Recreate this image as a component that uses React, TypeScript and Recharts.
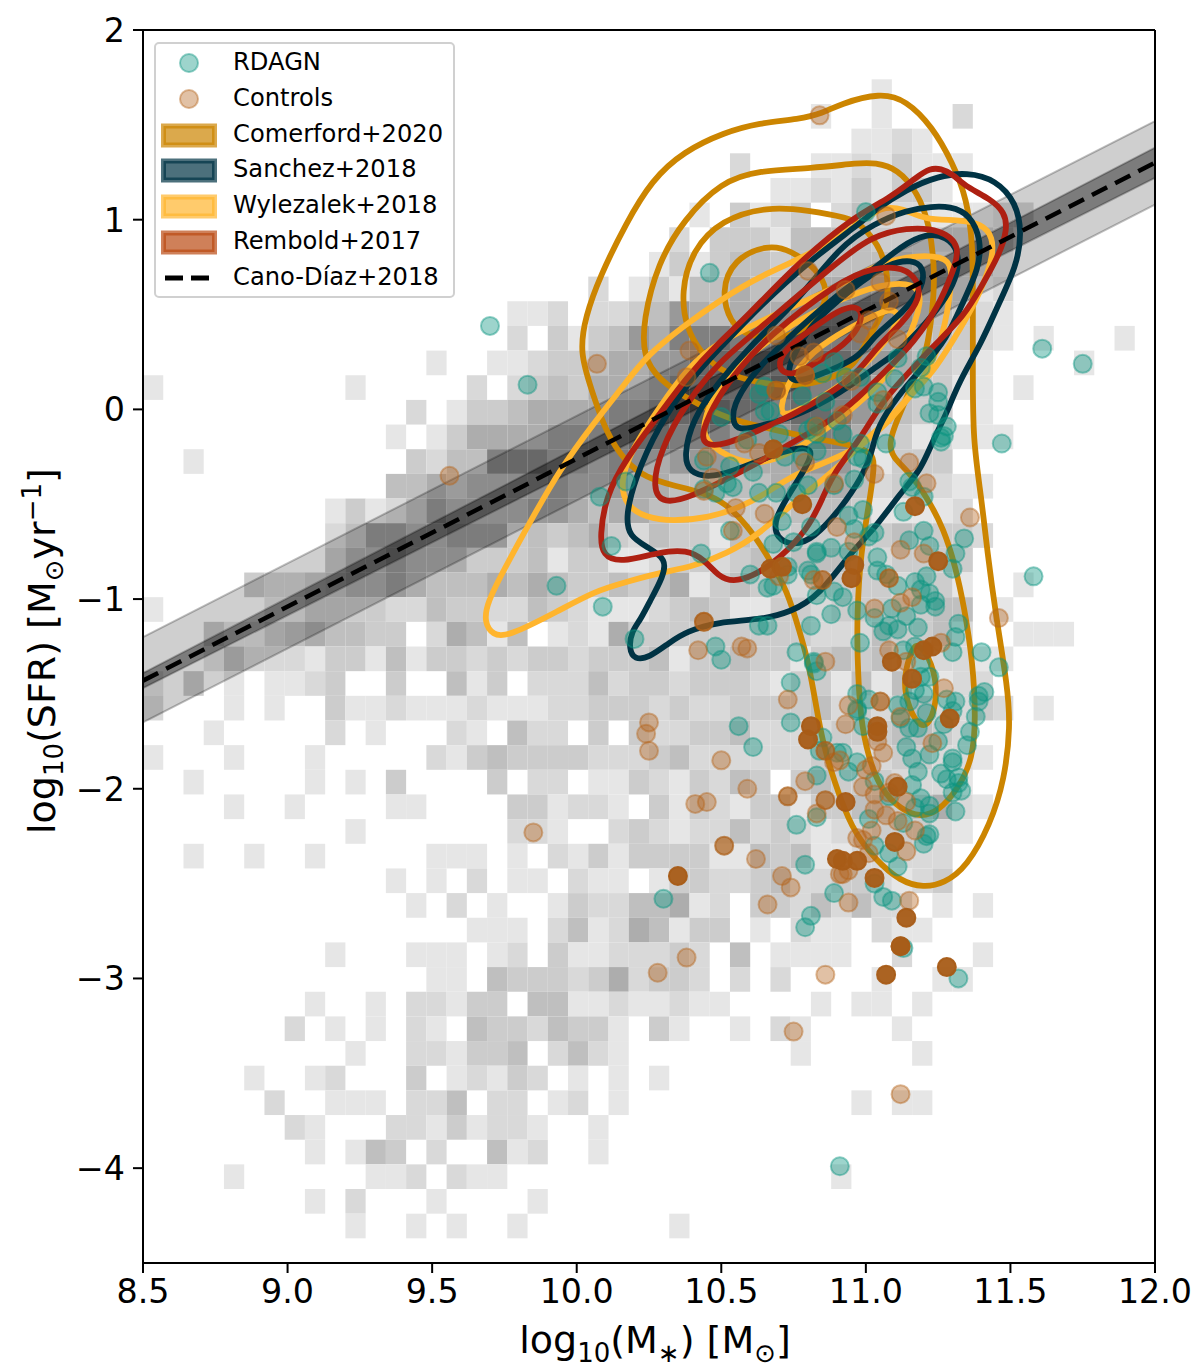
import { Area, ComposedChart, Line, ReferenceArea, ReferenceLine, Scatter, XAxis, YAxis } from "recharts";

const xTicks = [8.5, 9, 9.5, 10, 10.5, 11, 11.5, 12];
const yTicks = [-4, -3, -2, -1, 0, 1, 2];

// 2d histogram: [row from top, first column, shade level per column]
const binWidth = 0.07;
const binHeight = 0.13;
const histRows: [number, number, string][] = [
  [2, 36, "1"],
  [3, 33, "10010002"],
  [4, 35, "1121"],
  [5, 29, "200011213111"],
  [6, 31, "112131331"],
  [7, 27, "10312302422211122"],
  [8, 26, "20333144443333332"],
  [9, 25, "131344344444432331"],
  [10, 22, "201314454455554443312"],
  [11, 18, "1120223465" + "4555555555" + "44321"],
  [12, 18, "2031346577" + "7666666655" + "44321" + "010001"],
  [13, 14, "1001123345" + "5667777777" + "7665432100" + "001"],
  [14, 0, "1000000000" + "1000002023" + "4355567777" + "7887775433" + "1101"],
  [15, 13, "2013345" + "5556677887" + "7788765433" + "01"],
  [16, 12, "10135555" + "6666776776" + "6677753312" + "111"],
  [17, 2, "1" + "0000000000" + "3244777" + "6656556665" + "5566641333"],
  [18, 12, "44545555" + "6556554444" + "4555542332" + "11"],
  [19, 9, "13124655556" + "6545544333" + "3344431111" + "2"],
  [20, 9, "24665566634" + "3453243314" + "3333333433" + "32"],
  [21, 9, "35565553334" + "1331123323" + "4344432333" + "3"],
  [22, 5, "32234" + "5565444545" + "4334345134" + "3323333233" + "1001"],
  [23, 0, "1000001133" + "3322433224" + "3211123431" + "1332333334" + "401"],
  [24, 3, "3113454" + "4330254140" + "1215333333" + "3332224334" + "200111"],
  [25, 3, "1422213" + "3141332323" + "3233341334" + "3313434222" + "211"],
  [26, 0, "1030101123" + "0030041302" + "2242332333" + "2133141411" + "22"],
  [27, 0, "2000101003" + "1121112111" + "2233323223" + "3334232342" + "23201"],
  [28, 3, "1000002" + "0100021042" + "2030322334" + "2222333443" + "2"],
  [29, 0, "1000100010" + "0000213433" + "3322234222" + "2223222332" + "21"],
  [30, 2, "10000010" + "1030000302" + "2011321324" + "3034333222" + "1"],
  [31, 4, "100100" + "0011000033" + "1221031321" + "3313344345" + "21"],
  [32, 10, "1000000022" + "1002321224" + "2321223332" + "1"],
  [33, 2, "10010010" + "0000111010" + "2131333311" + "4341122222"],
  [34, 12, "10102011" + "0211013322" + "3422332123"],
  [35, 13, "1020100" + "1322445120" + "332424220101"],
  [36, 16, "1110" + "2412541330" + "102110211"],
  [37, 9, "1" + "0001110120" + "3112223204" + "011110020001"],
  [38, 14, "110433" + "3235233202" + "02000010011"],
  [39, 8, "100102213304" + "4112112110" + "000101101"],
  [40, 7, "2010102104332" + "4331031001" + "02100001"],
  [41, 10, "1002213340" + "2421000000" + "001000001"],
  [42, 5, "10012" + "0003012132" + "010101"],
  [43, 6, "2001" + "1102240220" + "1201" + "00000000000" + "1011"],
  [44, 7, "2100022131221" + "001"],
  [45, 8, "101430200412001"],
  [46, 4, "1000000" + "1120211" + "0000000000000000" + "1"],
  [47, 8, "102000100001"],
  [48, 10, "100101001" + "0000000" + "1"],
];
const shades = ["none", "#e6e6e6", "#d9d9d9", "#cccccc", "#bfbfbf", "#adadad", "#999999", "#808080", "#6b6b6b"];

// Cano-Diaz+2018 relation
const msLine = [[8.5, -1.43], [12, 1.3]];
const msInner = [[8.5, -1.47, -1.39], [12, 1.22, 1.38]];
const msOuter = [[8.5, -1.65, -1.2], [12, 1.08, 1.52]];

const comerford = [
  [[10.91, 1.61], [11.05, 1.67], [11.14, 1.63], [11.23, 1.49], [11.3, 1.3], [11.35, 1.11], [11.37, 0.86], [11.37, 0.62], [11.37, 0.19], [11.37, -0.16], [11.4, -0.47], [11.42, -0.75], [11.45, -1.09], [11.49, -1.46], [11.5, -1.67], [11.48, -1.95], [11.43, -2.19], [11.35, -2.41], [11.27, -2.5], [11.2, -2.52], [11.12, -2.49], [11.03, -2.37], [10.95, -2.21], [10.89, -1.96], [10.85, -1.75], [10.83, -1.58], [10.8, -1.32], [10.77, -1.17], [10.73, -0.96], [10.66, -0.77], [10.59, -0.61], [10.51, -0.49], [10.44, -0.44], [10.33, -0.4], [10.24, -0.36], [10.17, -0.28], [10.1, -0.12], [10.05, 0.11], [10.01, 0.3], [10.03, 0.49], [10.08, 0.7], [10.17, 0.98], [10.26, 1.21], [10.37, 1.36], [10.51, 1.46], [10.63, 1.51], [10.77, 1.53], [10.85, 1.56]],
  [[10.23, 0.47], [10.28, 0.77], [10.37, 1.0], [10.5, 1.2], [10.63, 1.26], [10.81, 1.27], [10.98, 1.3], [11.03, 1.3], [11.11, 1.27], [11.18, 1.14], [11.22, 0.98], [11.24, 0.72], [11.23, 0.51], [11.21, 0.3], [11.18, 0.21], [11.13, 0.02], [11.11, -0.05], [11.08, -0.17], [11.09, -0.25], [11.15, -0.33], [11.21, -0.46], [11.27, -0.63], [11.31, -0.83], [11.34, -1.04], [11.37, -1.33], [11.38, -1.63], [11.37, -1.84], [11.32, -2.0], [11.25, -2.12], [11.19, -2.15], [11.12, -2.11], [11.05, -2.0], [11.01, -1.84], [10.98, -1.63], [10.97, -1.28], [10.97, -1.09], [10.98, -0.77], [11.02, -0.42], [11.03, -0.28], [11.02, -0.23], [10.96, -0.19], [10.81, -0.15], [10.69, -0.11], [10.52, -0.05], [10.4, 0.04], [10.28, 0.16], [10.23, 0.28]],
  [[10.36, 0.62], [10.4, 0.84], [10.5, 1.0], [10.66, 1.07], [10.8, 1.05], [10.94, 1.01], [10.98, 0.98], [11.06, 0.84], [11.08, 0.65], [11.07, 0.54], [11.04, 0.46], [10.97, 0.26], [10.94, 0.21], [10.84, 0.14], [10.73, 0.12], [10.59, 0.15], [10.49, 0.21], [10.43, 0.3], [10.38, 0.42]],
  [[10.5, 0.62], [10.54, 0.79], [10.66, 0.87], [10.74, 0.84], [10.83, 0.74], [10.87, 0.63], [10.85, 0.51], [10.75, 0.37], [10.59, 0.38], [10.53, 0.46]],
  [[11.18, -1.23], [11.23, -1.33], [11.25, -1.51], [11.22, -1.67], [11.18, -1.67], [11.14, -1.54], [11.13, -1.41], [11.16, -1.26]],
];
const wylezalek = [
  [[9.68, -1.12], [9.71, -1.19], [9.76, -1.2], [9.94, -1.06], [10.06, -0.96], [10.17, -0.91], [10.29, -0.86], [10.4, -0.83], [10.52, -0.76], [10.63, -0.66], [10.75, -0.49], [10.87, -0.35], [10.98, -0.19], [11.08, -0.07], [11.15, 0.07], [11.23, 0.19], [11.3, 0.36], [11.38, 0.56], [11.44, 0.79], [11.44, 0.91], [11.4, 0.98], [11.32, 1.0], [11.2, 1.0], [11.13, 1.06], [11.05, 1.07], [10.98, 0.98], [10.8, 0.81], [10.63, 0.7], [10.5, 0.58], [10.37, 0.44], [10.24, 0.28], [10.17, 0.14], [10.06, -0.07], [9.94, -0.32], [9.84, -0.59], [9.75, -0.84], [9.69, -1.02]],
  [[10.15, -0.38], [10.17, -0.51], [10.24, -0.57], [10.33, -0.59], [10.46, -0.57], [10.56, -0.52], [10.66, -0.44], [10.76, -0.33], [10.96, -0.23], [11.08, -0.05], [11.19, 0.13], [11.26, 0.34], [11.29, 0.58], [11.3, 0.75], [11.27, 0.81], [11.14, 0.81], [11.02, 0.75], [10.91, 0.65], [10.49, 0.37], [10.38, 0.21], [10.29, 0.02], [10.19, -0.21]],
  [[10.43, -0.08], [10.45, -0.19], [10.6, -0.31], [10.74, -0.24], [10.93, -0.03], [11.07, 0.16], [11.14, 0.34], [11.2, 0.58], [11.17, 0.67], [11.05, 0.66], [10.91, 0.58], [10.74, 0.45], [10.59, 0.28], [10.49, 0.12]],
  [[10.7, 0], [10.74, 0.18], [10.84, 0.34], [10.98, 0.46], [11.1, 0.55], [11.12, 0.47], [11.05, 0.32], [10.95, 0.16], [10.81, 0.03], [10.72, -0.04]],
];
const sanchez = [
  [[11.35, 1.25], [11.45, 1.21], [11.52, 1.09], [11.54, 0.93], [11.52, 0.75], [11.46, 0.56], [11.4, 0.35], [11.32, 0.14], [11.28, -0.02], [11.23, -0.17], [11.19, -0.32], [11.12, -0.44], [11.03, -0.63], [10.95, -0.75], [10.84, -0.98], [10.74, -1.07], [10.63, -1.11], [10.49, -1.12], [10.38, -1.17], [10.32, -1.23], [10.25, -1.31], [10.2, -1.32], [10.18, -1.26], [10.19, -1.17], [10.22, -1.11], [10.25, -1.02], [10.3, -0.88], [10.31, -0.79], [10.25, -0.73], [10.18, -0.67], [10.17, -0.56], [10.2, -0.37], [10.28, -0.09], [10.4, 0.17], [10.5, 0.33], [10.63, 0.54], [10.81, 0.79], [10.98, 0.98], [11.03, 1.05], [11.14, 1.16], [11.25, 1.23]],
  [[11.29, 1.07], [11.36, 1.03], [11.4, 0.89], [11.39, 0.74], [11.34, 0.58], [11.28, 0.37], [11.19, 0.21], [11.11, 0.07], [11.04, -0.09], [11.02, -0.23], [10.99, -0.35], [10.91, -0.53], [10.82, -0.68], [10.75, -0.72], [10.69, -0.68], [10.68, -0.58], [10.75, -0.41], [10.82, -0.24], [10.8, -0.19], [10.69, -0.23], [10.54, -0.33], [10.45, -0.36], [10.39, -0.33], [10.37, -0.25], [10.4, -0.05], [10.49, 0.14], [10.59, 0.32], [10.77, 0.58], [10.91, 0.86], [11.03, 0.98], [11.14, 1.05], [11.23, 1.07]],
  [[10.54, -0.07], [10.56, -0.11], [10.63, -0.09], [10.75, -0.04], [10.87, 0.05], [10.96, 0.14], [11.05, 0.24], [11.11, 0.3], [11.2, 0.44], [11.28, 0.59], [11.32, 0.72], [11.32, 0.84], [11.28, 0.91], [11.21, 0.93], [11.12, 0.86], [11.03, 0.74], [10.91, 0.62], [10.69, 0.32], [10.6, 0.17], [10.54, 0.02]],
  [[10.73, 0.19], [10.75, 0.14], [10.82, 0.17], [10.98, 0.27], [11.02, 0.38], [11.13, 0.51], [11.2, 0.65], [11.2, 0.75], [11.16, 0.79], [11.08, 0.77], [10.98, 0.67], [10.91, 0.58], [10.81, 0.45], [10.74, 0.26]],
];
const rembold = [
  [[11.26, 1.27], [11.3, 1.24], [11.35, 1.17], [11.43, 1.11], [11.48, 1.04], [11.49, 0.95], [11.46, 0.81], [11.4, 0.65], [11.34, 0.49], [11.23, 0.33], [11.14, 0.18], [11.06, 0.05], [10.98, -0.16], [10.89, -0.33], [10.85, -0.47], [10.8, -0.63], [10.7, -0.79], [10.61, -0.88], [10.54, -0.91], [10.49, -0.88], [10.44, -0.79], [10.38, -0.74], [10.29, -0.75], [10.15, -0.81], [10.09, -0.77], [10.08, -0.67], [10.1, -0.46], [10.17, -0.26], [10.28, -0.04], [10.38, 0.17], [10.49, 0.35], [10.59, 0.49], [10.75, 0.75], [10.96, 1.02], [11.08, 1.11], [11.18, 1.23], [11.22, 1.27]],
  [[10.26, -0.42], [10.3, -0.5], [10.4, -0.46], [10.54, -0.35], [10.63, -0.28], [10.75, -0.17], [10.87, -0.07], [10.98, 0.07], [11.06, 0.19], [11.17, 0.36], [11.25, 0.54], [11.3, 0.72], [11.33, 0.86], [11.26, 0.95], [11.14, 0.96], [11.02, 0.91], [10.91, 0.79], [10.59, 0.37], [10.5, 0.26], [10.38, 0.04], [10.29, -0.21]],
  [[10.43, -0.12], [10.44, -0.19], [10.51, -0.19], [10.63, -0.11], [10.75, -0.03], [10.96, 0.16], [11.03, 0.32], [11.13, 0.46], [11.19, 0.59], [11.18, 0.68], [11.13, 0.75], [11.03, 0.75], [10.91, 0.68], [10.65, 0.37], [10.56, 0.21], [10.49, 0.07]],
  [[10.69, 0.22], [10.74, 0.17], [10.82, 0.24], [10.93, 0.34], [10.99, 0.46], [10.98, 0.55], [10.91, 0.53], [10.81, 0.42], [10.72, 0.32]],
];

const rdagn = [
  [9.7, 0.44], [9.83, 0.13], [10.46, 0.72], [11.0, 1.04], [11.61, 0.32], [11.75, 0.24], [11.47, -0.18], [11.58, -0.88], [10.91, -3.99], [11.32, -3.0], [11.13, -2.84], [10.3, -2.58], [9.93, -0.93], [10.09, -1.04], [10.12, -0.72], [10.08, -0.46], [10.2, -1.21], [10.43, -0.76],
  [10.17, -0.38], [10.5, -0.04], [10.63, 0.08], [10.65, 0.12], [10.65, -0.01], [10.67, -0.01], [10.78, 0.07], [10.89, 0.25], [10.85, 0.19], [10.59, -0.16], [10.7, -0.13], [10.8, -0.11], [10.82, -0.09], [10.83, -0.13], [10.44, -0.27], [10.53, -0.3], [10.61, -0.33], [10.72, -0.25], [10.78, -0.25], [10.83, -0.22], [10.52, -0.39], [10.54, -0.41], [10.44, -0.42], [10.48, -0.44], [10.63, -0.44], [10.69, -0.44], [10.76, -0.44], [10.8, -0.4], [10.89, -0.4], [10.96, -0.37], [10.92, -0.13], [10.97, -0.25], [10.9, -0.06], [10.86, 0.04],
  [10.71, -0.59], [10.81, -0.62], [10.94, -0.56], [10.96, -0.63], [10.53, -0.64], [10.68, -0.71], [10.75, -0.7], [10.83, -0.75], [10.83, -0.76], [10.88, -0.73], [10.94, -0.75], [10.6, -0.87], [10.73, -0.83], [10.73, -0.87], [10.66, -0.94], [10.68, -0.93], [10.8, -0.85], [10.81, -0.87], [10.89, -0.96], [10.92, -0.99], [10.83, -0.98], [10.88, -1.08], [10.63, -1.14], [10.66, -1.14], [10.81, -1.14], [10.97, -1.06],
  [10.48, -1.25], [10.5, -1.32], [10.76, -1.28], [10.82, -1.33], [10.82, -1.34], [10.83, -1.38], [10.74, -1.44], [10.74, -1.65], [10.56, -1.67], [10.61, -1.78], [10.85, -1.73], [10.84, -1.8], [10.9, -1.81], [10.92, -1.81], [10.94, -1.91], [10.97, -1.86], [10.83, -1.93], [10.83, -2.15], [10.76, -2.19], [10.79, -2.4], [10.89, -2.55], [10.81, -2.67], [10.79, -2.73], [10.98, -1.23], [10.97, -1.58], [10.97, -1.5],
  [11.11, 0.27], [11.21, 0.28], [11.19, 0.22], [11.1, 0.16], [11.17, 0.11], [11.2, 0.12], [11.25, 0.09], [11.25, 0.04], [11.22, -0.02], [11.25, -0.03], [11.28, -0.09], [11.26, -0.15], [11.26, -0.17], [11.27, -0.14], [11.07, -0.18], [11.04, 0.09], [11.04, 0.03], [10.98, 0.17], [10.93, 0.17], [10.99, -0.26], [10.98, -0.18], [11.15, -0.38], [11.16, -0.41], [11.2, -0.46], [11.13, -0.54], [10.99, -0.53], [11.03, -0.65], [11.01, -0.67], [11.2, -0.64], [11.15, -0.69], [11.22, -0.72], [11.34, -0.68], [11.31, -0.76], [11.3, -0.84], [11.04, -0.78], [11.04, -0.85], [11.07, -0.87], [11.11, -0.93], [11.17, -0.91], [11.21, -0.88], [11.19, -0.95], [11.22, -0.97], [11.19, -1.03], [11.24, -1.01], [11.24, -1.04], [11.09, -1.05], [11.14, -1.09], [11.03, -1.1], [11.08, -1.14], [11.06, -1.17], [11.11, -1.16], [11.18, -1.15], [11.32, -1.13], [11.31, -1.2],
  [11.3, -1.28], [11.4, -1.28], [11.46, -1.36], [11.17, -1.25], [11.13, -1.27], [11.19, -1.34], [11.22, -1.41], [11.19, -1.41], [11.17, -1.48], [11.2, -1.5], [11.15, -1.54], [11.11, -1.56], [11.28, -1.53], [11.31, -1.54], [11.3, -1.59], [11.39, -1.51], [11.41, -1.49], [11.39, -1.54], [11.38, -1.62], [11.36, -1.7], [11.35, -1.77], [11.27, -1.66], [11.21, -1.6], [11.18, -1.68], [11.15, -1.68], [11.12, -1.63], [11.01, -1.53], [10.97, -1.59], [10.99, -1.67], [11.14, -1.78], [11.16, -1.84], [11.22, -1.82], [11.25, -1.75], [11.3, -1.84], [11.3, -1.86], [11.18, -1.91], [11.26, -1.92], [11.28, -1.95], [11.32, -1.94], [11.32, -1.97], [11.33, -2.01], [11.3, -2.02], [11.16, -1.98], [11.19, -2.05], [11.22, -2.09], [11.17, -2.1], [11.22, -2.13], [11.31, -2.12], [11.08, -2.04], [11.03, -1.96], [11.01, -2.16], [11.13, -2.18], [11.22, -2.24], [11.21, -2.25], [11.2, -2.29], [11.03, -2.3], [11.08, -2.34], [11.11, -2.41], [11.03, -2.5], [11.06, -2.57], [11.09, -2.59],
];

const controlsLight = [
  [9.56, -0.35], [10.07, 0.24], [10.84, 1.55], [10.39, 0.31], [10.8, 0.73], [10.69, 0.39], [10.93, 0.63], [11.07, 1.02], [11.05, 0.67], [11.08, 0.57], [11.01, 0.47], [10.98, 0.4], [11.11, 0.37], [10.38, 0.17], [10.79, 0.18], [10.82, 0.3], [10.77, 0.28], [10.95, 0.15], [10.83, -0.09], [10.92, -0.03], [10.63, -0.23], [10.58, -0.18], [10.45, -0.25], [10.79, -0.28], [10.47, -0.36], [10.44, -0.43], [10.55, -0.52], [10.65, -0.55], [10.89, -0.39], [10.9, -0.62], [10.96, -0.7], [10.54, -0.64], [10.7, -0.88], [10.82, -0.9], [10.44, -1.12], [11.06, 0.05], [11.03, -0.34], [11.15, -0.28], [11.21, -0.39], [11.36, -0.57], [11.12, -0.74], [11.2, -0.76], [11.12, -1.02], [11.16, -0.99], [11.03, -1.05], [11.46, -1.1],
  [11.26, -1.23], [11.08, -1.27], [11.14, -1.33], [11.27, -1.47], [10.94, -1.56], [10.93, -1.66], [11.04, -1.75], [11.06, -1.81], [11.12, -1.62], [11.23, -1.76], [10.91, -1.85], [11.02, -1.88], [11.0, -1.9], [10.99, -1.99], [11.1, -1.97], [11.08, -2.02], [11.03, -2.03], [11.14, -2.07], [11.03, -2.11], [11.07, -2.14], [11.11, -2.17], [11.17, -2.22], [11.02, -2.22], [10.99, -2.27], [11.14, -2.33], [11.01, -2.34], [10.94, -2.43], [10.92, -2.45], [10.94, -2.6], [11.15, -2.59],
  [10.42, -1.27], [10.57, -1.25], [10.59, -1.26], [10.86, -1.33], [10.73, -1.53], [10.25, -1.65], [10.24, -1.71], [10.25, -1.8], [10.5, -1.85], [10.89, -1.86], [10.79, -1.96], [10.59, -2.0], [10.83, -2.13], [10.41, -2.08], [10.45, -2.07], [10.62, -2.37], [10.91, -2.45], [10.71, -2.46], [10.74, -2.52], [10.66, -2.61], [10.97, -2.26], [10.38, -2.89], [10.28, -2.97], [10.86, -2.98], [10.75, -3.28], [11.12, -3.61], [9.85, -2.23],
];
const controlsMid = [
  [10.69, 0.1], [10.79, 0.18], [10.44, -1.12], [11.08, -0.89], [11.05, -1.54], [10.86, -1.8], [10.73, -2.04], [10.86, -2.06], [10.51, -2.3], [10.85, -0.9], [11.12, -2.83],
];
const controlsDark = [
  [10.68, -0.21], [10.78, -0.5], [10.67, -0.84], [10.71, -0.83], [10.96, -0.82], [10.95, -0.89], [11.17, -0.51], [11.25, -0.8], [11.23, -1.25], [11.2, -1.27], [11.09, -1.33], [11.16, -1.42], [11.29, -1.63], [11.04, -1.67], [11.04, -1.7], [11.11, -1.99], [10.93, -2.07], [11.1, -2.28], [10.97, -2.38], [10.92, -2.38], [11.03, -2.47], [11.14, -2.68], [10.81, -1.67], [10.8, -1.74], [10.9, -2.37], [10.35, -2.46], [11.12, -2.83], [11.07, -2.98], [11.28, -2.94],
];

const legendRows = ["RDAGN", "Controls", "Comerford+2020", "Sanchez+2018", "Wylezalek+2018", "Rembold+2017", "Cano-Díaz+2018"];
const patchColors = ["", "", "#cc8500", "#003344", "#ffb52e", "#bb4a12"];

const toPoints = (list: number[][]) => list.map(([x, y]) => ({ x, y }));
const toBand = (list: number[][]) => list.map(([x, lo, hi]) => ({ x, band: [lo, hi] }));
const font = "'DejaVu Sans', sans-serif";
const minus = (v: number) => (v < 0 ? `\u2212${-v}` : `${v}`);

const histCells = histRows.flatMap(([row, from, levels]) =>
  levels.split("").flatMap((level, i) =>
    level === "0" ? [] : [{ key: `${row}-${i}`, col: from + i, row, level: Number(level) }]
  )
);

function dot(color: string, fillOpacity: number, strokeOpacity: number) {
  return (props: any) => (
    <circle
      cx={props.cx}
      cy={props.cy}
      r={9}
      fill={color}
      fillOpacity={fillOpacity}
      stroke={color}
      strokeOpacity={strokeOpacity}
      strokeWidth={2}
    />
  );
}

function contours(name: string, color: string, loops: number[][][]) {
  return loops.map((loop, i) => (
    <Line
      key={`${name}-${i}`}
      data={toPoints(loop)}
      dataKey="y"
      type="basisClosed"
      stroke={color}
      strokeWidth={5.8}
      dot={false}
      activeDot={false}
      legendType="none"
      isAnimationActive={false}
    />
  ));
}

function LegendBox() {
  return (
    <div
      style={{
        position: "absolute",
        left: 154,
        top: 42,
        width: 297,
        height: 252,
        border: "2px solid #d0d0d0",
        borderRadius: 5,
        background: "rgba(255,255,255,0.8)",
        fontFamily: font,
        fontSize: 24.2,
        color: "#000",
      }}
    >
      {legendRows.map((label, i) => (
        <div key={label} style={{ position: "absolute", left: 0, top: 2 + i * 35.8, height: 34, width: 297 }}>
          <svg width={70} height={34} style={{ position: "absolute", left: 0, top: 0 }}>
            {i === 0 && <circle cx={33} cy={17} r={9} fill="#0a9480" fillOpacity={0.4} stroke="#0a9480" strokeOpacity={0.45} strokeWidth={2} />}
            {i === 1 && <circle cx={33} cy={17} r={9} fill="#b5651d" fillOpacity={0.4} stroke="#b5651d" strokeOpacity={0.45} strokeWidth={2} />}
            {i >= 2 && i <= 5 && (
              <rect x={7.5} y={8} width={51} height={19} fill={patchColors[i]} fillOpacity={0.7} stroke={patchColors[i]} strokeOpacity={0.7} strokeWidth={5} />
            )}
            {i === 6 && <line x1={9} x2={53} y1={17} y2={17} stroke="#000" strokeWidth={5} strokeDasharray="18 8" />}
          </svg>
          <span style={{ position: "absolute", left: 77, top: 2, whiteSpace: "nowrap" }}>{label}</span>
        </div>
      ))}
    </div>
  );
}

export default function App() {
  const axisStroke = { stroke: "#000", strokeWidth: 2 };
  const tickStyle = { fontSize: 33.3, fontFamily: font, fill: "#000" };
  return (
    <div style={{ position: "absolute", left: 0, top: 0, width: 1200, height: 1370, background: "#fff" }}>
      <ComposedChart width={1200} height={1370} margin={{ top: 30, right: 45, bottom: 0, left: 0 }}>
        <XAxis
          dataKey="x"
          type="number"
          domain={[8.5, 12]}
          ticks={xTicks}
          allowDataOverflow
          height={107}
          tickSize={10}
          tickMargin={6}
          tick={tickStyle}
          axisLine={axisStroke}
          tickLine={axisStroke}
          tickFormatter={(v: number) => v.toFixed(1)}
          interval={0}
        />
        <YAxis
          dataKey="y"
          type="number"
          domain={[-4.5, 2]}
          ticks={yTicks}
          allowDataOverflow
          width={143}
          tickSize={10}
          tickMargin={8}
          tick={tickStyle}
          axisLine={axisStroke}
          tickLine={axisStroke}
          tickFormatter={minus}
          interval={0}
        />
        {histCells.map((c) => (
          <ReferenceArea
            key={c.key}
            x1={8.5 + c.col * binWidth}
            x2={8.5 + (c.col + 1) * binWidth}
            y1={2 - (c.row + 1) * binHeight}
            y2={2 - c.row * binHeight}
            fill={shades[c.level]}
            fillOpacity={1}
            stroke="none"
            ifOverflow="hidden"
          />
        ))}
        <Area data={toBand(msOuter)} dataKey="band" type="linear" fill="#000" fillOpacity={0.19} stroke="#000" strokeOpacity={0.25} strokeWidth={2} dot={false} activeDot={false} isAnimationActive={false} />
        <Area data={toBand(msInner)} dataKey="band" type="linear" fill="#000" fillOpacity={0.4} stroke="#000" strokeOpacity={0.25} strokeWidth={2} dot={false} activeDot={false} isAnimationActive={false} />
        {contours("comerford", "#cc8500", comerford)}
        {contours("wylezalek", "#ffb52e", wylezalek)}
        {contours("sanchez", "#003344", sanchez)}
        {contours("rembold", "#ae2012", rembold)}
        <Line data={toPoints(msLine)} dataKey="y" type="linear" stroke="#000" strokeWidth={4.5} strokeDasharray="17 9" dot={false} activeDot={false} isAnimationActive={false} />
        <Scatter data={toPoints(rdagn)} dataKey="y" shape={dot("#0a9480", 0.4, 0.45)} isAnimationActive={false} />
        <Scatter data={toPoints(controlsLight)} dataKey="y" shape={dot("#b5651d", 0.4, 0.45)} isAnimationActive={false} />
        <Scatter data={toPoints(controlsMid)} dataKey="y" shape={dot("#ad5f18", 0.7, 0.7)} isAnimationActive={false} />
        <Scatter data={toPoints(controlsDark)} dataKey="y" shape={dot("#a85c17", 0.95, 0.95)} isAnimationActive={false} />
        <ReferenceLine x={12} stroke="#000" strokeWidth={2} />
        <ReferenceLine y={2} stroke="#000" strokeWidth={2} />
      </ComposedChart>
      <LegendBox />
      <div style={{ position: "absolute", left: 355, width: 600, top: 1318, textAlign: "center", fontFamily: font, fontSize: 38, lineHeight: "44px", whiteSpace: "nowrap" }}>
        log<sub style={{ fontSize: 26 }}>10</sub>(M<sub style={{ fontSize: 26 }}>∗</sub>) [M<sub style={{ fontSize: 26 }}>⊙</sub>]
      </div>
      <div style={{ position: "absolute", left: 43, top: 640, width: 0, height: 0 }}>
        <div style={{ position: "absolute", left: -300, top: -22, width: 600, transform: "rotate(-90deg)", textAlign: "center", fontFamily: font, fontSize: 38, lineHeight: "44px", whiteSpace: "nowrap" }}>
          log<sub style={{ fontSize: 26 }}>10</sub>(SFR) [M<sub style={{ fontSize: 26 }}>⊙</sub>yr<sup style={{ fontSize: 26 }}>−1</sup>]
        </div>
      </div>
    </div>
  );
}
